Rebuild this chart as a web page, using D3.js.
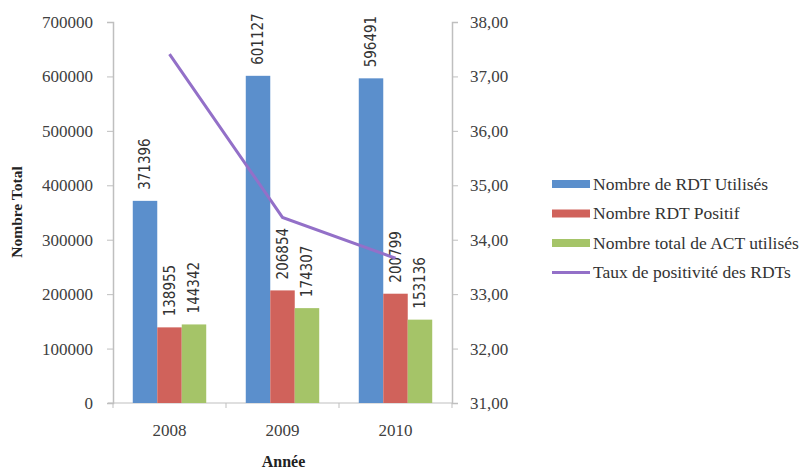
<!DOCTYPE html>
<html><head><meta charset="utf-8">
<script src="https://cdn.jsdelivr.net/npm/d3@7/dist/d3.min.js"></script>
<style>body{margin:0;background:#fff}svg{display:block}</style>
</head><body>
<svg id="c" width="810" height="471"></svg>
<script>
const years = ["2008","2009","2010"];
const seriesNames = ["Nombre de RDT Utilisés","Nombre RDT Positif","Nombre total de ACT utilisés"];
const rdtUtilises = [371396, 601127, 596491];
const rdtPositif = [138955, 206854, 200799];
const actUtilises = [144342, 174307, 153136];
const tauxPositivite = [37.41, 34.41, 33.66];
const lineName = "Taux de positivité des RDTs";
const leftTicks = [0,100000,200000,300000,400000,500000,600000,700000];
const rightTicks = [31,32,33,34,35,36,37,38];

const colors = ["#5b8fcc","#d0625b","#a5c468"];
const lineColor = "#9370c8";
const serif = "'Liberation Serif','Times New Roman',serif";

const svg = d3.select("#c");
const L = 113, R = 452, T = 22, B = 403;

const x = d3.scaleBand().domain(years).range([L,R]).padding(0);
const yL = d3.scaleLinear().domain([0,700000]).range([B,T]);
const yR = d3.scaleLinear().domain([31,38]).range([B,T]);
const groupFrac = 0.65;
const xs = d3.scaleBand().domain(d3.range(3)).range([0, x.bandwidth()*groupFrac]);
const gOff = x.bandwidth()*(1-groupFrac)/2;

const data = [rdtUtilises, rdtPositif, actUtilises];

// axes
const axL = svg.append("g").attr("transform",`translate(${L},0)`)
  .call(d3.axisLeft(yL).tickValues(leftTicks).tickSize(6).tickPadding(14).tickFormat(d3.format("d")));
const axR = svg.append("g").attr("transform",`translate(${R},0)`)
  .call(d3.axisRight(yR).tickValues(rightTicks).tickSize(6).tickPadding(12).tickFormat(d=>d.toFixed(2).replace(".",",")));
const axX = svg.append("g").attr("transform",`translate(0,${B})`)
  .call(d3.axisBottom(x).tickSize(0).tickPadding(21));
// category boundary ticks
svg.append("g").selectAll("line").data(years.concat(["end"])).join("line")
  .attr("x1",(d,i)=>L+i*x.bandwidth()).attr("x2",(d,i)=>L+i*x.bandwidth())
  .attr("y1",B).attr("y2",B+5).attr("stroke","#bfbfbf");
svg.append("line").attr("x1",L-5).attr("x2",R).attr("y1",B).attr("y2",B).attr("stroke","#bfbfbf");
[axL,axR,axX].forEach(a=>{
  a.selectAll("path").attr("stroke","#bfbfbf").attr("stroke-width",1.5);
  a.selectAll(".tick line").attr("stroke","#bfbfbf");
  a.selectAll("text").attr("font-family",serif).attr("font-size",17).attr("fill","#404040");
});
axX.select("path").remove();

// bars
data.forEach((vals,si)=>{
  svg.append("g").selectAll("rect").data(vals).join("rect")
    .attr("x",(d,i)=>x(years[i])+gOff+xs(si))
    .attr("width",xs.bandwidth())
    .attr("y",d=>yL(d)).attr("height",d=>B-yL(d))
    .attr("fill",colors[si]);
  svg.append("g").selectAll("text").data(vals).join("text")
    .attr("transform",(d,i)=>`translate(${x(years[i])+gOff+xs(si)+xs.bandwidth()/2+5},${yL(d)-11}) rotate(-90)`)
    .attr("font-family","'Liberation Sans Narrow','DejaVu Sans Condensed',sans-serif")
    .attr("font-size",15).attr("fill","#333")
    .text(d=>d);
});

// line
const line = d3.line().x((d,i)=>x(years[i])+x.bandwidth()/2).y(d=>yR(d));
svg.append("path").datum(tauxPositivite).attr("d",line)
  .attr("fill","none").attr("stroke",lineColor).attr("stroke-width",3);

// titles
svg.append("text").attr("transform",`translate(22,212) rotate(-90)`)
  .attr("text-anchor","middle").attr("font-family",serif).attr("font-weight","bold")
  .attr("font-size",15.5).attr("fill","#222").text("Nombre Total");
svg.append("text").attr("x",(L+R)/2+1).attr("y",467)
  .attr("text-anchor","middle").attr("font-family",serif).attr("font-weight","bold")
  .attr("font-size",16).attr("fill","#222").text("Année");

// legend
const legItems = seriesNames.map((n,i)=>({name:n,color:colors[i],type:"bar"}))
  .concat([{name:lineName,color:lineColor,type:"line"}]);
const leg = svg.append("g").selectAll("g").data(legItems).join("g")
  .attr("transform",(d,i)=>`translate(552,${184+i*29.5})`);
leg.append("rect").attr("x",0).attr("width",38)
  .attr("y",d=>d.type==="bar"?-4:-1.5).attr("height",d=>d.type==="bar"?8:3)
  .attr("fill",d=>d.color);
leg.append("text").attr("x",41).attr("y",5.5).attr("font-family",serif)
  .attr("font-size",17.5).attr("fill","#333").text(d=>d.name);
</script>
</body></html>
